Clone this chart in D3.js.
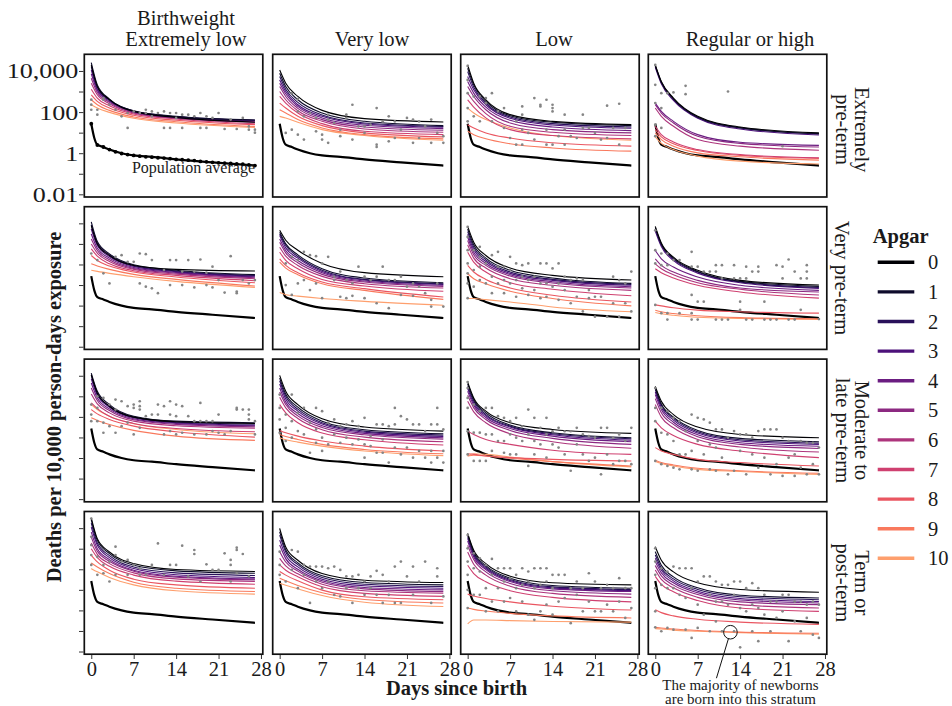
<!DOCTYPE html>
<html lang="en">
<head>
<meta charset="utf-8">
<title>Neonatal mortality by Apgar score</title>
<script src="https://cdn.jsdelivr.net/npm/d3@7"></script>
<style>
  * { margin: 0; padding: 0; }
  body { background: #fff; }
  text { font-family: "Liberation Serif", "DejaVu Serif", serif; fill: #1a1a1a; }
</style>
</head>
<body>
<div id="chart"></div>
<script>
// ---------------- data (deaths per 10,000 person-days) ----------------
var fitDays = [0, 1, 3, 7, 14, 27];
var apgarScores = [0, 1, 2, 3, 4, 5, 6, 7, 8, 9, 10];
var birthweightLabels = ["Extremely low", "Very low", "Low", "Regular or high"];
var gestationLabels = [["Extremely", "pre-term"], ["Very pre-term"], ["Moderate to", "late pre-term"], ["Term or", "post-term"]];
var yTickValues = [0.01, 0.1, 1, 10, 100, 1000, 10000];
var yTickLabels = ["0.01", "", "1", "", "100", "", "10,000"];
var xTickValues = [0, 7, 14, 21, 28];

// population average
var popDays = [0, 0.5, 1, 2, 3, 5, 7, 10, 14, 20, 27];
var popFit = [27, 5.5, 2.6, 2.0, 1.5, 1.0, 0.78, 0.66, 0.5, 0.36, 0.25];
var popObserved = [27, 2.5, 2.0, 1.5, 1.17, 0.97, 0.86, 0.78, 0.72, 0.67, 0.64, 0.60, 0.58, 0.54,
  0.50, 0.48, 0.46, 0.44, 0.40, 0.38, 0.36, 0.34, 0.33, 0.32, 0.30, 0.29, 0.27, 0.25];

// fitted curves, one row per Apgar score 0..10, values at fitDays
var fitR1C1 = [[19600,1750,400,108,55,32],[25400,2110,430,116,62,41],[16300,1620,397,112,60,40],[11200,1300,368,108,58,40],[7180,1120,330,104,55,37],[4440,895,295,97,52,34],[2540,693,254,90,50,32],[1300,478,204,81,46,27],[693,330,157,70,40,24.5],[397,227,121,58,34,20],[227,157,97,50,29.5,18]];
var fitR1C2 = [[11200,2540,575,121,48,33],[7740,1750,397,90,35.5,22],[5340,1300,295,72,29.5,20],[3680,1000,227,62,26.4,18.2],[2540,775,189,52,22.7,15.7],[1750,575,151,43,18.8,13],[1000,397,116,35.5,15.1,10.4],[575,274,90,27.4,11.6,8.0],[274,157,62,22,9.7,6.2],[130,90,43,16.9,8.0,5.0],[62,52,32,14,7.2,4.3]];
var fitR1C3 = [[19600,2540,397,75,35.5,24.5],[13500,2110,330,67,32,22],[9330,1620,274,58,27.4,18.8],[5340,1210,227,50,23.6,16.3],[3060,834,175,40,18.8,12.5],[1750,575,130,29.5,14,9.7],[834,330,84,20.3,10.4,7.2],[397,175,52,14,7.2,5.0],[24.5,16.9,9.7,5.5,3.2,2.2],[11.6,8.0,5.0,2.9,1.8,1.26],[157,90,43,16.9,7.2,4.3]];
var fitR1C4 = [[19600,3060,478,62,18.8,9.7],[18200,2840,444,58,17.5,9.0],[17500,2740,428,55,16.9,8.6],[15100,2360,368,50,15.1,7.7],[274,108,35.5,8.0,3.4,2.4],[227,90,29.5,6.7,3.0,2.0],[157,62,20.3,4.6,2.2,1.4],[20.3,8.0,3.5,1.5,0.86,0.6],[14,6.2,2.9,1.35,0.78,0.56],[9.7,4.6,2.2,1.04,0.67,0.46],[6.2,3.0,1.5,0.72,0.41,0.30]];
var fitR2C1 = [[7740,1000,274,90,58,48],[11700,1300,330,97,52,32],[8340,1120,295,90,48,29.5],[5340,834,244,81,45,27.4],[3060,620,204,72,41.5,25.4],[1750,478,169,64,38,22.7],[1000,355,140,58,34,20.3],[575,254,108,50,29.5,16.3],[274,157,84,43,24.5,13],[108,84,58,33,18.8,9.0],[52,46,37,25.4,15.1,7.7]];
var fitR2C2 = [[4600,1510,495,112,40,25.4],[3680,1000,295,62,22,13],[3060,834,244,52,18.8,11.6],[2540,644,204,46,17.5,10.8],[1750,478,157,40,15.7,9.7],[1210,368,121,33,14,8.6],[693,254,90,26.4,11.6,7.2],[397,157,62,18.8,9.0,5.0],[189,90,40,14,6.7,2.6],[130,67,32,11.6,5.5,2.0],[4.3,3.4,2.9,2.2,1.6,1.04]];
var fitR2C3 = [[7180,1210,274,67,29.5,17.5],[5340,900,204,52,22,12],[3970,693,169,43,18.8,10.8],[2940,533,140,37,16.9,9.7],[2110,397,112,32,14.5,8.3],[1460,295,90,27.4,12.5,7.2],[900,204,67,20.3,9.7,5.5],[397,130,43,13,6.2,3.0],[90,43,18.8,7.2,3.2,1.5],[35.5,20.3,11.6,5.0,2.2,0.97],[2.2,2.2,1.95,1.5,0.86,0.5]];
var fitR2C4 = [[7180,1120,227,52,16.9,10],[6200,1000,204,46,15.1,8.6],[5340,900,182,43,14,7.7],[4280,746,157,38,13,6.9],[478,189,75,24.5,9.7,5.5],[189,90,43,16.9,7.2,4.6],[108,62,32,13,6.2,3.3],[62,40,22,9.7,4.6,2.3],[1.08,0.97,0.78,0.6,0.5,0.43],[0.6,0.5,0.41,0.32,0.26,0.23],[0.46,0.4,0.34,0.27,0.24,0.21]];
var fitR3C1 = [[11200,1460,330,97,58,48],[13500,1750,397,108,62,52],[10400,1300,330,97,55,45],[7180,1120,295,90,52,40],[4440,834,244,81,48,37],[2540,620,204,72,43,33],[1300,428,157,62,37,28.4],[478,254,108,48,27.4,18.8],[227,140,75,35.5,18.8,10.4],[90,67,43,22,11.6,7.2],[397,227,108,46,24.5,15.1]];
var fitR3C2 = [[10400,1750,397,81,32,20.3],[7740,1300,295,62,23.6,15.1],[5750,1000,236,52,20.3,13],[3970,746,189,45,18.2,11.2],[2540,533,146,37,15.7,9.7],[1620,397,112,30.6,13.5,8.3],[900,274,84,23.6,10.4,6.2],[397,157,52,16.3,7.7,4.3],[22,16.9,11.6,6.7,3.8,2.2],[14,11.2,8.0,4.6,2.6,1.6],[9.7,7.7,5.9,3.8,2.2,1.3]];
var fitR3C3 = [[4950,834,189,52,24.5,15.7],[3970,693,157,40,16.9,9.7],[3060,575,130,35.5,15.1,8.6],[2360,460,112,32,13.5,7.4],[1750,368,93,27.4,11.6,6.2],[1120,274,75,22,9.0,4.6],[575,175,52,15.1,6.2,3.0],[20.3,14,8.0,4.6,2.4,1.5],[1.6,1.5,1.26,1.04,0.86,0.72],[1.26,1.35,1.26,0.97,0.67,0.41],[1.26,1.6,1.5,1.12,0.67,0.37]];
var fitR3C4 = [[3060,575,130,32,14,9.7],[2540,428,97,22,9.0,6.2],[2110,368,84,18.8,7.7,5.3],[1620,295,70,16.3,6.7,4.6],[1210,227,55,13.5,5.5,3.7],[775,157,43,10.8,4.6,2.9],[397,97,29.5,8.0,3.4,1.95],[62,29.5,12.5,4.6,2.2,1.04],[3.2,2.2,1.5,0.86,0.6,0.41],[0.78,0.6,0.46,0.32,0.24,0.18],[0.67,0.54,0.41,0.28,0.22,0.16]];
var fitR4C1 = [[31700,3060,693,189,97,78],[25400,2540,575,157,84,64],[17500,1890,460,130,67,50],[11200,1460,368,108,54,40],[6430,1000,295,90,46,34],[3680,746,244,81,41.5,30.6],[1890,533,189,67,34,25.4],[1000,368,140,52,26.4,18.8],[478,227,90,33,17.5,12],[204,130,62,23.6,12,8.3],[108,75,40,17.5,9.0,6.2]];
var fitR4C2 = [[9650,1210,274,62,29.5,22.7],[6670,900,204,48,22.7,17.5],[4600,693,169,40,18.8,14.5],[2630,478,130,33,15.7,12],[1510,330,100,27.4,13,10],[720,227,81,23.6,11.2,8.3],[342,146,60,18.8,9.0,6.9],[163,90,43,14,6.7,4.8],[78,52,27.4,9.7,4.6,3.3],[37,27.4,16.3,7.2,3.4,2.3],[21,16.9,11.2,5.3,2.5,1.55]];
var fitR4C3 = [[5540,834,189,46,22,17.5],[4950,693,151,37,16.3,12],[3970,575,130,32,14,10.4],[3170,478,112,28.4,12.5,9.3],[2360,397,97,25.4,11.2,8.3],[1460,295,75,20.3,9.0,6.2],[693,175,52,15.1,6.7,4.3],[157,62,24.5,9.0,4.3,2.6],[6.2,5.0,3.8,2.6,1.6,1.04],[1.3,1.12,0.93,0.72,0.54,0.43],[0.22,0.34,0.34,0.32,0.29,0.27]];
var fitR4C4 = [[1260,274,75,22,10.4,7.7],[720,157,43,12.5,5.5,4.0],[495,116,34,10.4,4.6,3.3],[342,90,27.4,8.6,3.8,2.7],[236,67,22,7.2,3.2,2.3],[151,48,16.9,5.9,2.6,1.9],[93,32,12.5,4.3,1.9,1.3],[45,18.2,8.0,3.0,1.3,0.9],[1.08,0.78,0.54,0.37,0.27,0.21],[0.15,0.14,0.125,0.106,0.088,0.077],[0.13,0.125,0.11,0.097,0.083,0.069]];

// observed rates [day, rate]
var obsR1C1 = [[0,400],[0,230],[0,130],[1,130],[1,75],[2,480],[2,400],[3,230],[4,130],[5,62],[6,90],[6,17],[7,108],[8,90],[9,130],[9,90],[10,108],[10,62],[11,90],[12,108],[12,17],[13,90],[13,17],[14,90],[14,52],[15,75],[15,17],[16,75],[17,62],[18,90],[18,17],[19,62],[19,17],[20,52],[21,90],[22,15],[23,43],[24,15],[25,52],[26,20],[26,14],[27,10],[27,14]];
var obsR1C2 = [[1,9.7],[2,834],[2,14],[3,428],[3,108],[3,8],[4,62],[4,4.6],[5,90],[6,52],[6,11.6],[7,4.6],[7,8],[8,75],[8,43],[8,3.2],[9,29.5],[10,14],[10,6.7],[11,75],[11,52],[12,227],[12,4.6],[13,20],[14,9.7],[14,20],[15,24.5],[16,157],[16,2.6],[16,2.0],[17,35],[18,62],[18,3.8],[19,35],[19,5.5],[20,14],[21,52],[22,43],[22,3.2],[23,35],[23,5.5],[24,20],[25,43],[25,3.2],[26,9.7],[27,6.7],[27,3.2]];
var obsR1C3 = [[0,17600],[0,3680],[0,834],[0,157],[0,35.5],[1,575],[1,62],[2,575],[2,35.5],[3,478],[3,274],[4,834],[4,35.5],[5,108],[6,157],[6,16.9],[7,5.5],[8,35.5],[8,2.6],[9,189],[9,75],[9,14],[9,2.6],[10,9.7],[11,478],[11,4.6],[12,227],[12,189],[13,397],[13,14],[13,2.6],[14,227],[14,157],[14,108],[14,2.6],[15,6.7],[16,75],[16,14],[16,2.6],[17,6.7],[18,5.5],[19,75],[19,16.9],[20,16.9],[21,9.7],[22,4.6],[23,204],[23,5.5],[24,16.9],[25,254],[25,2.6],[26,16.9]];
var obsR1C4 = [[0,19600],[0,2110],[0,274],[0,24.5],[0,6.7],[1,834],[1,157],[1,16.9],[2,834],[3,900],[5,1890],[5,746],[12,1000],[21,2.2]];
var obsR2C1 = [[0,342],[1,163],[2,37],[3,12],[4,236],[5,285],[6,135],[7,135],[8,342],[8,12],[9,318],[9,8.3],[10,163],[10,6.9],[11,4.0],[12,54],[13,163],[13,10],[14,163],[15,45],[15,10],[16,163],[17,45],[17,7.7],[18,175],[19,40],[19,10],[20,78],[20,7.7],[21,17.5],[22,4.3],[23,254],[24,4.8],[24,4.0],[25,17.5],[26,12],[27,17.5]];
var obsR2C2 = [[1,112],[1,10],[2,236],[2,3.3],[3,163],[3,12],[4,412],[4,17.5],[5,285],[5,5.7],[6,254],[6,12],[7,112],[7,2.3],[8,236],[9,25.4],[9,17.5],[10,45],[10,2.7],[11,17.5],[11,2.3],[12,12],[12,3.0],[13,78],[14,25.4],[14,2.3],[15,17.5],[16,25.4],[16,1.3],[17,78],[18,17.5],[18,0.75],[19,17.5],[20,25.4],[20,3.3],[21,8.3],[22,12],[22,3.0],[23,8.3],[24,4.0],[25,0.9],[25,1.9],[26,12],[27,0.9]];
var obsR2C3 = [[0,6670],[0,2200],[0,495],[0,112],[0,37],[0,12],[0,2.3],[1,495],[1,54],[1,8.3],[2,720],[2,236],[2,78],[2,17.5],[3,112],[3,12],[4,285],[4,25.4],[4,4.0],[5,412],[5,78],[5,12],[6,78],[6,17.5],[6,4.0],[7,236],[7,54],[7,12],[8,112],[8,17.5],[8,2.7],[9,93],[9,25.4],[9,6.9],[10,112],[10,17.5],[10,3.3],[11,25.4],[11,5.7],[12,112],[12,12],[12,2.3],[13,112],[13,12],[13,2.7],[14,64],[14,8.3],[15,112],[15,12],[15,1.9],[16,25.4],[16,5.7],[17,17.5],[17,1.3],[18,21],[18,2.7],[19,17.5],[19,0.52],[20,5.7],[20,2.3],[21,2.7],[21,0.29],[22,2.7],[23,0.29],[24,25.4],[24,1.3],[25,17.5],[25,0.29],[26,12],[26,1.3],[27,45],[27,0.52]];
var obsR2C4 = [[0,4600],[0,495],[0,112],[0,1.08],[1,342],[1,93],[1,0.43],[2,342],[2,93],[2,0.21],[2,0.43],[3,163],[4,163],[4,0.43],[6,412],[6,78],[6,3.3],[6,0.21],[6,0.43],[7,78],[7,1.55],[7,0.21],[8,45],[8,1.55],[9,45],[10,93],[10,45],[10,0.21],[11,93],[11,21],[11,0.21],[12,0.21],[13,93],[13,21],[14,21],[14,1.55],[14,0.62],[15,78],[15,21],[15,0.21],[16,45],[16,0.21],[17,78],[17,45],[18,1.55],[18,0.21],[19,0.21],[20,93],[20,0.21],[21,78],[21,21],[22,175],[22,0.21],[23,45],[23,0.21],[24,0.62],[24,21],[25,93],[25,45],[25,21],[27,0.22]];
var obsR3C1 = [[0,397],[0,130],[0,62],[1,1000],[1,274],[1,62],[2,834],[2,52],[2,16.9],[3,397],[3,35.5],[4,693],[4,227],[4,16.9],[5,575],[5,35.5],[6,330],[6,52],[7,397],[7,274],[7,14],[8,575],[8,330],[8,227],[8,29.5],[9,108],[10,130],[11,397],[11,130],[12,330],[12,14],[13,575],[13,130],[13,20.3],[14,397],[14,108],[14,14],[15,330],[15,16.9],[16,108],[17,62],[17,14],[18,478],[18,62],[19,14],[19,62],[20,62],[20,20.3],[21,130],[21,16.9],[22,14],[23,20.3],[24,274],[24,227],[25,227],[26,227],[26,130],[26,75],[27,62],[27,14]];
var obsR3C2 = [[0,1210],[0,274],[0,75],[0,16.9],[1,130],[1,29.5],[1,6.7],[2,1210],[2,62],[2,9.7],[3,157],[3,20.3],[4,274],[4,14],[5,52],[5,1.8],[6,274],[6,24.5],[6,5.5],[7,189],[7,9.7],[7,2.2],[8,52],[8,4.6],[9,75],[9,14],[10,35.5],[10,5.5],[11,43],[11,9.7],[12,62],[12,4.6],[13,35.5],[13,8.0],[14,90],[14,4.6],[14,1.04],[15,11.6],[15,3.8],[16,43],[16,1.8],[17,43],[17,8.0],[17,1.8],[18,35.5],[18,0.6],[19,274],[19,43],[19,3.2],[20,108],[20,1.5],[21,75],[21,3.2],[22,43],[22,1.04],[23,43],[23,2.2],[24,20.3],[24,1.04],[25,43],[25,2.2],[25,0.6],[26,274],[26,43],[26,1.04],[27,24.5],[27,2.2],[27,0.6]];
var obsR3C3 = [[0,4950],[0,2540],[0,834],[0,274],[0,20],[0,1.5],[1,397],[1,17],[1,0.72],[2,189],[2,17],[2,0.72],[3,274],[3,14],[3,0.72],[4,274],[4,14],[4,2.2],[5,108],[5,6.7],[6,90],[6,6.7],[6,1.8],[7,62],[7,14],[7,1.5],[8,90],[8,9.7],[8,1.5],[9,35],[9,6.7],[10,227],[10,14],[10,0.41],[11,90],[11,6.7],[11,1.5],[12,29.5],[12,4.6],[13,90],[13,14],[13,1.04],[14,20],[14,4.6],[15,29.5],[15,3.2],[16,20],[16,1.5],[17,20],[17,0.24],[18,29.5],[18,4.6],[19,14],[19,1.5],[20,11.6],[20,0.72],[21,9.7],[21,1.04],[22,29.5],[22,0.16],[23,29.5],[23,1.5],[24,9.7],[24,0.5],[25,14],[25,0.72],[26,6.7],[26,0.72],[27,29.5],[27,0.5]];
var obsR3C4 = [[0,2540],[0,274],[0,62],[0,0.72],[1,274],[1,16.9],[1,0.5],[2,189],[2,14],[2,0.41],[3,90],[3,6.7],[3,0.34],[4,62],[4,1.5],[4,0.28],[5,20.3],[5,1.5],[6,130],[6,2.2],[6,0.28],[7,90],[7,6.7],[7,0.24],[8,75],[8,1.5],[9,52],[9,4.6],[9,0.28],[10,24.5],[10,3.2],[10,0.24],[11,24.5],[11,1.04],[12,9.7],[12,0.16],[13,20.3],[13,0.24],[14,14],[14,2.2],[15,14],[15,0.16],[16,9.7],[16,1.5],[17,20.3],[17,0.34],[18,24.5],[18,1.04],[19,24.5],[19,0.16],[20,24.5],[20,0.5],[21,9.7],[21,0.135],[22,6.7],[22,1.04],[23,1.5],[23,0.135],[24,6.7],[24,0.34],[25,5.5],[25,0.16],[26,5.5],[26,0.5],[27,3.2],[27,0.16]];
var obsR4C1 = [[0,29500],[0,3820],[0,1510],[0,495],[0,163],[1,412],[1,54],[2,163],[2,64],[3,236],[3,25.4],[4,1260],[4,495],[4,54],[5,236],[6,285],[6,54],[7,163],[8,112],[8,54],[9,54],[10,163],[11,1810],[12,54],[13,163],[14,163],[15,1410],[16,45],[17,865],[17,553],[18,25.4],[19,175],[20,93],[21,93],[22,597],[23,285],[23,163],[23,25.4],[24,1120],[24,865],[24,64],[25,553],[26,45]];
var obsR4C2 = [[0,720],[0,163],[0,54],[1,25.4],[2,865],[2,93],[3,720],[3,12],[4,163],[4,54],[5,135],[5,2.3],[6,135],[6,25.4],[7,135],[7,12],[8,112],[8,25.4],[9,135],[9,5.7],[10,93],[10,4.8],[11,45],[11,12],[12,45],[12,2.3],[13,54],[13,12],[14,25.4],[14,5.7],[15,45],[15,12],[16,84],[16,5.7],[17,54],[17,2.3],[18,25.4],[18,5.7],[19,135],[19,2.3],[20,236],[20,2.3],[21,45],[22,135],[22,5.7],[23,25.4],[24,236],[25,2.3],[26,112],[26,45],[27,4.8]];
var obsR4C3 = [[0,4600],[0,1040],[0,236],[0,54],[0,10],[0,1.3],[1,597],[1,112],[1,5.7],[2,342],[2,78],[2,5.7],[3,163],[3,12],[3,0.9],[4,318],[4,54],[4,2.7],[5,112],[5,12],[5,0.9],[6,112],[6,25.4],[6,2.7],[7,112],[7,37],[7,4.0],[8,54],[8,12],[8,0.9],[9,112],[9,17.5],[9,2.7],[10,78],[10,25.4],[10,0.62],[11,112],[11,12],[11,0.35],[12,112],[12,17.5],[12,0.9],[13,112],[13,25.4],[13,1.9],[14,54],[14,12],[14,0.62],[15,54],[15,2.7],[16,54],[16,4.0],[17,12],[17,0.24],[18,25.4],[18,5.7],[19,12],[19,0.9],[20,64],[20,2.7],[21,25.4],[21,0.9],[22,12],[22,0.9],[23,17.5],[23,1.9],[24,12],[24,0.9],[25,37],[25,2.7],[26,12],[26,0.43],[27,12],[27,1.3]];
var obsR4C4 = [[0,1040],[0,236],[0,54],[0,12],[0,0.9],[0,0.15],[1,112],[1,17.5],[1,0.097],[2,78],[2,12],[2,0.14],[3,135],[3,12],[3,0.115],[4,112],[4,5.7],[5,112],[5,4.0],[5,0.115],[6,112],[6,12],[6,0.046],[7,25.4],[7,1.9],[7,0.14],[8,45],[8,0.62],[9,45],[9,5.7],[9,0.097],[10,25.4],[10,2.7],[10,0.29],[11,17.5],[11,2.7],[11,0.097],[12,17.5],[12,1.9],[13,25.4],[13,5.7],[13,0.097],[14,25.4],[14,1.3],[14,0.016],[15,12],[15,0.9],[16,21],[16,1.9],[16,0.097],[17,12],[17,1.3],[17,0.032],[18,5.7],[18,0.62],[19,2.7],[19,0.097],[20,2.7],[20,0.43],[21,5.7],[21,0.9],[22,5.7],[22,0.032],[23,2.7],[23,0.29],[24,2.7],[24,0.097],[25,1.9],[25,0.43],[26,2.7],[26,0.066],[27,1.9],[27,0.046]];

// annotated point in the term / regular-birthweight panel
var annotationDay = 12.4;
var annotationRate = 0.087;
var annotationText = ["The majority of newborns", "are born into this stratum"];

var fitGrid = [[fitR1C1, fitR1C2, fitR1C3, fitR1C4], [fitR2C1, fitR2C2, fitR2C3, fitR2C4],
               [fitR3C1, fitR3C2, fitR3C3, fitR3C4], [fitR4C1, fitR4C2, fitR4C3, fitR4C4]];
var obsGrid = [[obsR1C1, obsR1C2, obsR1C3, obsR1C4], [obsR2C1, obsR2C2, obsR2C3, obsR2C4],
               [obsR3C1, obsR3C2, obsR3C3, obsR3C4], [obsR4C1, obsR4C2, obsR4C3, obsR4C4]];

// ---------------- layout ----------------
var svgWidth = 952, svgHeight = 706;
var panelW = 178.5, panelH = 142.7;
var panelX = [84.3, 272.7, 460.7, 648.3];
var panelY = [54.3, 206.7, 359.1, 511.5];

var svg = d3.select("#chart").append("svg")
    .attr("width", svgWidth)
    .attr("height", svgHeight);

var x = d3.scaleLinear().domain([-1.15, 28.3]).range([0, panelW]);
var y = d3.scaleLog().domain([Math.pow(10, -2.13), Math.pow(10, 4.81)]).range([panelH, 0]);
var apgarColor = function(a) { return d3.interpolateMagma(a * 0.08); };

var line = d3.line()
    .x(function(d) { return x(d[0]); })
    .y(function(d) { return y(d[1]); })
    .curve(d3.curveMonotoneX);

var popPts = popDays.map(function(d, i) { return [d, popFit[i]]; });

fitGrid.forEach(function(rowFits, r) {
  rowFits.forEach(function(fits, c) {
    var g = svg.append("g").attr("transform", "translate(" + panelX[c] + "," + panelY[r] + ")");

    // population average reference
    g.append("path")
      .datum(popPts)
      .attr("d", line)
      .attr("fill", "none")
      .attr("stroke", "#000")
      .attr("stroke-width", 2.2);

    // fitted curves by Apgar
    apgarScores.slice().reverse().forEach(function(a) {
      var pts = fitDays.map(function(d, i) { return [d, fits[a][i]]; });
      g.append("path")
        .datum(pts)
        .attr("d", line)
        .attr("fill", "none")
        .attr("stroke", apgarColor(a))
        .attr("stroke-width", 1.1);
    });

    // observed rates
    g.selectAll("circle.obs")
      .data(obsGrid[r][c])
      .enter().append("circle")
      .attr("class", "obs")
      .attr("cx", function(d) { return x(d[0]); })
      .attr("cy", function(d) { return y(d[1]); })
      .attr("r", 1.35)
      .attr("fill", "#858585");

    if (r === 0 && c === 0) {
      g.selectAll("circle.pop")
        .data(popObserved)
        .enter().append("circle")
        .attr("class", "pop")
        .attr("cx", function(d, i) { return x(i); })
        .attr("cy", function(d) { return y(d); })
        .attr("r", 1.9)
        .attr("fill", "#000");
      g.append("text")
        .attr("x", 170.7).attr("y", 118.7)
        .attr("text-anchor", "end")
        .attr("font-size", "16px")
        .text("Population average");
    }

    // panel border
    g.append("rect")
      .attr("width", panelW).attr("height", panelH)
      .attr("fill", "none")
      .attr("stroke", "#111")
      .attr("stroke-width", 1.7);

    // y axis on first column
    if (c === 0) {
      var yAxisG = g.append("g")
        .call(d3.axisLeft(y).tickValues(yTickValues).tickSize(4.5)
          .tickFormat(function(d, i) { return r === 0 ? yTickLabels[i] : ""; }));
      yAxisG.select(".domain").remove();
      yAxisG.selectAll("line").attr("stroke", "#333").attr("stroke-width", 1).attr("transform", "translate(-0.8,0)");
      yAxisG.selectAll("text")
        .attr("x", 0).attr("dy", null)
        .attr("transform", "translate(-6,7) scale(1.27,1)")
        .attr("font-size", "20.5px")
        .attr("font-family", "Liberation Serif, serif")
        .attr("fill", "#1a1a1a");
    }

    // x axis on last row
    if (r === 3) {
      var xAxisG = g.append("g")
        .attr("transform", "translate(0," + panelH + ")")
        .call(d3.axisBottom(x).tickValues(xTickValues).tickSize(4));
      xAxisG.select(".domain").remove();
      xAxisG.selectAll("line").attr("stroke", "#333").attr("stroke-width", 1).attr("transform", "translate(0,0.8)");
      xAxisG.selectAll("text")
        .attr("font-size", "20.5px")
        .attr("font-family", "Liberation Serif, serif")
        .attr("fill", "#1a1a1a");
    }

    if (r === 3 && c === 3) {
      var cx = x(annotationDay), cy = y(annotationRate);
      g.append("circle")
        .attr("cx", cx).attr("cy", cy).attr("r", 6.8)
        .attr("fill", "none").attr("stroke", "#111").attr("stroke-width", 1);
      g.append("line")
        .attr("x1", cx - 2).attr("y1", cy + 6.5)
        .attr("x2", cx - 14).attr("y2", cy + 46)
        .attr("stroke", "#111").attr("stroke-width", 1);
      annotationText.forEach(function(t, i) {
        g.append("text")
          .attr("x", cx + 10).attr("y", cy + 57.5 + i * 14.2)
          .attr("text-anchor", "middle")
          .attr("font-size", "15px")
          .text(t);
      });
    }
  });
});

// column strip titles
var colTitleX = [186, 372, 554, 750];
birthweightLabels.forEach(function(t, c) {
  svg.append("text")
    .attr("x", colTitleX[c]).attr("y", 45.5)
    .attr("text-anchor", "middle")
    .attr("font-size", "20.5px")
    .text(t);
});
svg.append("text")
  .attr("x", colTitleX[0]).attr("y", 24.5)
  .attr("text-anchor", "middle")
  .attr("font-size", "20.5px")
  .text("Birthweight");

// row strip titles (rotated)
gestationLabels.forEach(function(lines, r) {
  var cy = panelY[r] + panelH / 2 + (r === 0 ? 4 : 0);
  var bx = lines.length === 2 ? 855 : 835;
  var t = svg.append("text")
    .attr("transform", "translate(" + bx + "," + cy + ") rotate(90)")
    .attr("text-anchor", "middle")
    .attr("font-size", "20.5px");
  lines.forEach(function(s, i) {
    t.append("tspan").attr("x", 0).attr("y", i * 19).text(s);
  });
});

// axis titles
svg.append("text")
  .attr("transform", "translate(61,407) rotate(-90)")
  .attr("text-anchor", "middle")
  .attr("font-size", "20.5px")
  .attr("font-weight", "bold")
  .text("Deaths per 10,000 person-days exposure");
svg.append("text")
  .attr("x", 456.5).attr("y", 695)
  .attr("text-anchor", "middle")
  .attr("font-size", "20.5px")
  .attr("font-weight", "bold")
  .text("Days since birth");

// legend
var legend = svg.append("g");
legend.append("text")
  .attr("x", 872.7).attr("y", 243)
  .attr("font-size", "20.5px")
  .attr("font-weight", "bold")
  .text("Apgar");
apgarScores.forEach(function(a, i) {
  var ly = 262.3 + i * 29.6;
  legend.append("line")
    .attr("x1", 877.7).attr("x2", 914.3)
    .attr("y1", ly).attr("y2", ly)
    .attr("stroke", apgarColor(a))
    .attr("stroke-width", 3.4);
  legend.append("text")
    .attr("x", 928).attr("y", ly + 7)
    .attr("font-size", "20.5px")
    .text(a);
});
</script>
</body>
</html>
